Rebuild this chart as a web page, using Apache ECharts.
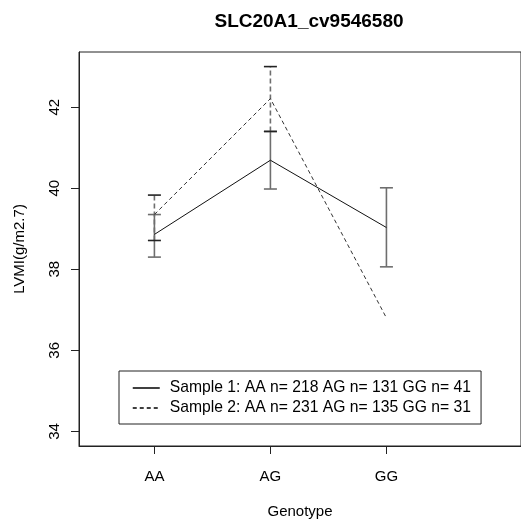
<!DOCTYPE html>
<html>
<head>
<meta charset="utf-8">
<script src="https://cdn.jsdelivr.net/npm/echarts@6/dist/echarts.min.js"></script>
<style>html,body{margin:0;padding:0;background:#fff}#c{width:521px;height:527px}</style>
</head>
<body>
<div id="c"></div>
<script>
var categories = ['AA', 'AG', 'GG'];
var catPos = [1, 2, 3];
var yTicks = [34, 36, 38, 40, 42];
var s1Name = 'Sample 1: AA n= 218 AG n= 131 GG n= 41';
var s2Name = 'Sample 2: AA n= 231 AG n= 135 GG n= 31';
var s1Mean = [38.86, 40.69, 39.03];
var s1Lower = [38.30, 39.98, 38.06];
var s1Upper = [39.35, 41.40, 40.01];
var s2Mean = [39.35, 42.21, 36.80];
var s2Lower = [38.71, 41.40, null];
var s2Upper = [39.83, 43.00, null];

var FONT = '"Liberation Sans", Arial, sans-serif';

function lineData(means) {
  return means.map(function (v, i) { return [catPos[i], v]; });
}
function barData(lower, upper) {
  var out = [];
  for (var i = 0; i < catPos.length; i++) {
    if (lower[i] != null && upper[i] != null) out.push([catPos[i], lower[i], upper[i]]);
  }
  return out;
}
function errRender(dashed) {
  return function (params, api) {
    var x = api.value(0);
    var lo = api.coord([x, api.value(1)]);
    var hi = api.coord([x, api.value(2)]);
    var hw = 6.5;
    var st = { stroke: '#6e6e6e', lineWidth: 1.6, lineDash: dashed ? [5, 3] : null };
    var cap = { stroke: dashed ? '#222' : '#6e6e6e', lineWidth: 1.6 };
    return {
      type: 'group',
      children: [
        { type: 'line', shape: { x1: lo[0], y1: lo[1], x2: hi[0], y2: hi[1] }, style: st },
        { type: 'line', shape: { x1: lo[0] - hw, y1: lo[1], x2: lo[0] + hw, y2: lo[1] }, style: cap },
        { type: 'line', shape: { x1: hi[0] - hw, y1: hi[1], x2: hi[0] + hw, y2: hi[1] }, style: cap }
      ]
    };
  };
}

var chart = echarts.init(document.getElementById('c'), null, { renderer: 'canvas' });
chart.setOption({
  animation: false,
  backgroundColor: '#fff',
  title: {
    text: 'SLC20A1_cv9546580',
    left: 304, top: 7, textAlign: 'center',
    textStyle: { fontFamily: FONT, fontSize: 19, fontWeight: 'bold', color: '#000' }
  },
  grid: {
    left: 79, right: -8, top: 52, bottom: 81,
    show: true, borderColor: '#222', borderWidth: 1, backgroundColor: 'transparent'
  },
  legend: {
    orient: 'vertical',
    left: 119, top: 371,
    padding: [9, 10, 8, 13],
    itemWidth: 27, itemHeight: 13, itemGap: 4,
    backgroundColor: '#fff',
    borderColor: '#222', borderWidth: 1, borderRadius: 0,
    itemStyle: { opacity: 0 },
    lineStyle: { width: 1.5, color: '#000' },
    textStyle: { fontFamily: FONT, fontSize: 15.7, color: '#000', padding: [0, 0, 0, 5] },
    data: [s1Name, s2Name]
  },
  xAxis: {
    type: 'value', min: 0.35, max: 4.16,
    name: 'Genotype', nameLocation: 'middle', nameGap: 58,
    nameTextStyle: { fontFamily: FONT, fontSize: 15, color: '#000' },
    axisLine: { show: true, lineStyle: { color: '#222', width: 1 } },
    axisTick: { show: true, length: 8, customValues: catPos, lineStyle: { color: '#222' } },
    axisLabel: {
      customValues: catPos, margin: 23,
      fontFamily: FONT, fontSize: 15, color: '#000',
      formatter: function (v) { var i = catPos.indexOf(v); return i >= 0 ? categories[i] : ''; }
    },
    splitLine: { show: false }
  },
  yAxis: {
    type: 'value', min: 33.64, max: 43.36,
    name: 'LVMI(g/m2.7)', nameLocation: 'middle', nameGap: 52,
    nameTextStyle: { fontFamily: FONT, fontSize: 15, color: '#000' },
    axisLine: { show: true, lineStyle: { color: '#222', width: 1 } },
    axisTick: { show: true, length: 8, customValues: yTicks, lineStyle: { color: '#222' } },
    axisLabel: {
      customValues: yTicks, rotate: 90, margin: 17,
      fontFamily: FONT, fontSize: 15, color: '#000'
    },
    splitLine: { show: false }
  },
  series: [
    {
      name: s1Name, type: 'line', data: lineData(s1Mean),
      symbol: 'none', color: '#111',
      lineStyle: { color: '#111', width: 1, type: 'solid' }, z: 3
    },
    {
      name: s2Name, type: 'line', data: lineData(s2Mean),
      symbol: 'none', color: '#333',
      lineStyle: { color: '#333', width: 1, type: [4, 3] }, z: 3
    },
    {
      name: 'err1', type: 'custom', renderItem: errRender(false),
      data: barData(s1Lower, s1Upper), encode: { x: 0, y: [1, 2] }, z: 2
    },
    {
      name: 'err2', type: 'custom', renderItem: errRender(true),
      data: barData(s2Lower, s2Upper), encode: { x: 0, y: [1, 2] }, z: 2
    }
  ]
});
</script>
</body>
</html>
